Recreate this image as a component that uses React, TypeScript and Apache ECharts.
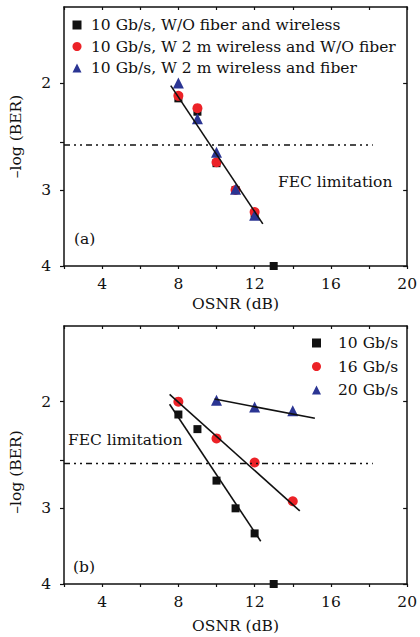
import React, { useEffect, useRef } from "react";
import * as echarts from "echarts";

// ---------- data ----------
const yTickValues = [2, 3, 4];
const yMinorTickValues = [2, 2.5, 3, 4];
const xRange = [2, 20];
const yRange = [1.5, 4];
const fecLevel = 2.53;
const fecSpan = [2, 18.2];

// (a)
const topNames = [
  "10 Gb/s, W/O fiber and wireless",
  "10 Gb/s, W 2 m wireless and W/O fiber",
  "10 Gb/s, W 2 m wireless and fiber",
];
const topBackOsnr = [8, 9, 10, 11, 12, 13];
const topBackBer = [2.12, 2.23, 2.71, 3.0, 3.28, 4.0];
const topWirelessOsnr = [8, 9, 10, 11, 12];
const topWirelessBer = [2.1, 2.2, 2.7, 3.0, 3.26];
const topFiberOsnr = [8, 9, 10, 11, 12];
const topFiberBer = [2.0, 2.29, 2.6, 2.99, 3.3];
const topFitOsnr = [7.6, 12.43];
const topFitBer = [2.02, 3.41];

// (b)
const botNames = ["10 Gb/s", "16 Gb/s", "20 Gb/s"];
const bot10Osnr = [8, 9, 10, 11, 12, 13];
const bot10Ber = [2.1, 2.22, 2.7, 3.0, 3.3, 4.0];
const bot16Osnr = [8, 10, 12, 14];
const bot16Ber = [2.0, 2.3, 2.52, 2.92];
const bot20Osnr = [10, 12, 14];
const bot20Ber = [1.99, 2.04, 2.07];
const bot10FitOsnr = [7.54, 12.32];
const bot10FitBer = [2.02, 3.4];
const bot16FitOsnr = [7.54, 14.37];
const bot16FitBer = [1.945, 3.03];
const bot20FitOsnr = [9.9, 15.16];
const bot20FitBer = [1.98, 2.13];

// ---------- style ----------
const FONT = "DejaVu Serif";
const FS = 15.5;
const BLACK = "#111111";
const RED = "#ec2227";
const BLUE = "#2b3593";

const pairs = (xs: number[], ys: number[]) => xs.map((x, i) => [x, ys[i]]);

function xAxes(gridIndex: number, nameGap: number) {
  return [
    {
      type: "value",
      gridIndex,
      position: "bottom",
      min: xRange[0],
      max: xRange[1],
      interval: 2,
      name: "OSNR (dB)",
      nameLocation: "middle",
      nameGap,
      nameTextStyle: { fontFamily: FONT, fontSize: FS, color: BLACK },
      axisLine: { show: true, onZero: false, lineStyle: { color: BLACK, width: 1.5 } },
      axisTick: { show: true, inside: false, length: 3, lineStyle: { color: BLACK, width: 1.2 } },
      axisLabel: {
        show: true,
        margin: 10,
        fontFamily: FONT,
        fontSize: FS,
        color: BLACK,
        formatter: (v: number) => (v % 4 === 0 && v > 2 ? String(v) : ""),
      },
      splitLine: { show: false },
    },
    {
      type: "value",
      gridIndex,
      position: "top",
      min: xRange[0],
      max: xRange[1],
      interval: 2,
      axisLine: { show: true, onZero: false, lineStyle: { color: BLACK, width: 1.5 } },
      axisTick: { show: true, inside: true, length: 3, lineStyle: { color: BLACK, width: 1.2 } },
      axisLabel: { show: false },
      splitLine: { show: false },
    },
  ];
}

function yAxes(gridIndex: number, namePad: number) {
  return [
    {
      type: "log",
      logBase: 10,
      gridIndex,
      position: "left",
      min: yRange[0],
      max: yRange[1],
      inverse: true,
      name: "–log (BER)",
      nameLocation: "middle",
      nameGap: 40,
      nameRotate: 90,
      nameTextStyle: { fontFamily: FONT, fontSize: FS, color: BLACK, padding: [0, namePad, 0, 0] },
      axisLine: { show: true, onZero: false, lineStyle: { color: BLACK, width: 1.5 } },
      axisTick: {
        show: true,
        inside: false,
        length: 4,
        customValues: yMinorTickValues,
        lineStyle: { color: BLACK, width: 1.2 },
      },
      axisLabel: {
        show: true,
        margin: 13,
        customValues: yTickValues,
        fontFamily: FONT,
        fontSize: FS,
        color: BLACK,
      },
      splitLine: { show: false },
      minorTick: { show: false },
    },
    {
      type: "log",
      logBase: 10,
      gridIndex,
      position: "right",
      min: yRange[0],
      max: yRange[1],
      inverse: true,
      axisLine: { show: true, onZero: false, lineStyle: { color: BLACK, width: 1.5 } },
      axisTick: {
        show: true,
        inside: true,
        length: 4,
        customValues: yTickValues,
        lineStyle: { color: BLACK, width: 1.2 },
      },
      axisLabel: { show: false },
      splitLine: { show: false },
    },
  ];
}

function scatter(name: string, xi: number, yi: number, data: number[][], symbol: string, size: number, color: string) {
  return {
    type: "scatter",
    name,
    xAxisIndex: xi,
    yAxisIndex: yi,
    data,
    symbol,
    symbolSize: size,
    itemStyle: { color, opacity: 1 },
    z: 3,
  };
}

function line(xi: number, yi: number, data: number[][], dash?: number[]) {
  return {
    type: "line",
    xAxisIndex: xi,
    yAxisIndex: yi,
    data,
    showSymbol: false,
    symbol: "none",
    silent: true,
    lineStyle: { color: BLACK, width: dash ? 1.4 : 1.6, type: dash || "solid" },
    z: 4,
  };
}

export default function App() {
  const ref = useRef<HTMLDivElement>(null);
  useEffect(() => {
    document.body.style.margin = "0";
    const chart = echarts.init(ref.current!, undefined, { renderer: "svg" });
    const dashPattern = [6, 4, 2, 4, 2, 4];
    const topLegendText = { fontFamily: FONT, fontSize: FS, color: BLACK, lineHeight: 17, padding: [0, 0, 0, 4.5] };
    const botLegendText = { fontFamily: FONT, fontSize: FS, color: BLACK, lineHeight: 17, padding: [0, 0, 0, 12] };
    chart.setOption({
      animation: false,
      backgroundColor: "#ffffff",
      textStyle: { fontFamily: FONT },
      grid: [
        { left: 61, right: 9, top: 7, height: 259 },
        { left: 60, right: 10, top: 326, height: 258 },
      ],
      xAxis: [...xAxes(0, 30), ...xAxes(1, 34)],
      yAxis: [...yAxes(0, 0), ...yAxes(1, 34)],
      legend: [
        {
          data: topNames,
          orient: "vertical",
          left: 72.5,
          top: 16.5,
          padding: 0,
          itemWidth: 9,
          itemHeight: 9,
          itemGap: 4.5,
          textStyle: topLegendText,
          selectedMode: false,
        },
        {
          data: botNames,
          orient: "vertical",
          left: 312,
          top: 334.5,
          padding: 0,
          itemWidth: 9,
          itemHeight: 9,
          itemGap: 6.5,
          textStyle: botLegendText,
          selectedMode: false,
        },
      ],
      series: [
        scatter(topNames[0], 0, 0, pairs(topBackOsnr, topBackBer), "rect", 8, BLACK),
        scatter(topNames[1], 0, 0, pairs(topWirelessOsnr, topWirelessBer), "circle", 10, RED),
        scatter(topNames[2], 0, 0, pairs(topFiberOsnr, topFiberBer), "triangle", 11, BLUE),
        line(0, 0, pairs(topFitOsnr, topFitBer)),
        line(0, 0, pairs(fecSpan, [fecLevel, fecLevel]), dashPattern),
        scatter(botNames[0], 2, 2, pairs(bot10Osnr, bot10Ber), "rect", 8, BLACK),
        scatter(botNames[1], 2, 2, pairs(bot16Osnr, bot16Ber), "circle", 10, RED),
        scatter(botNames[2], 2, 2, pairs(bot20Osnr, bot20Ber), "triangle", 11, BLUE),
        line(2, 2, pairs(bot10FitOsnr, bot10FitBer)),
        line(2, 2, pairs(bot16FitOsnr, bot16FitBer)),
        line(2, 2, pairs(bot20FitOsnr, bot20FitBer)),
        line(2, 2, pairs(fecSpan, [fecLevel, fecLevel]), dashPattern),
      ],
      graphic: [
        { type: "text", left: 278, top: 174, style: { text: "FEC limitation", font: `${FS}px "${FONT}"`, fill: BLACK } },
        { type: "text", left: 74, top: 231, style: { text: "(a)", font: `${FS}px "${FONT}"`, fill: BLACK } },
        { type: "text", left: 68, top: 432, style: { text: "FEC limitation", font: `${FS}px "${FONT}"`, fill: BLACK } },
        { type: "text", left: 73, top: 559, style: { text: "(b)", font: `${FS}px "${FONT}"`, fill: BLACK } },
      ],
    });
    return () => chart.dispose();
  }, []);
  return <div ref={ref} style={{ width: 420, height: 637 }} />;
}
